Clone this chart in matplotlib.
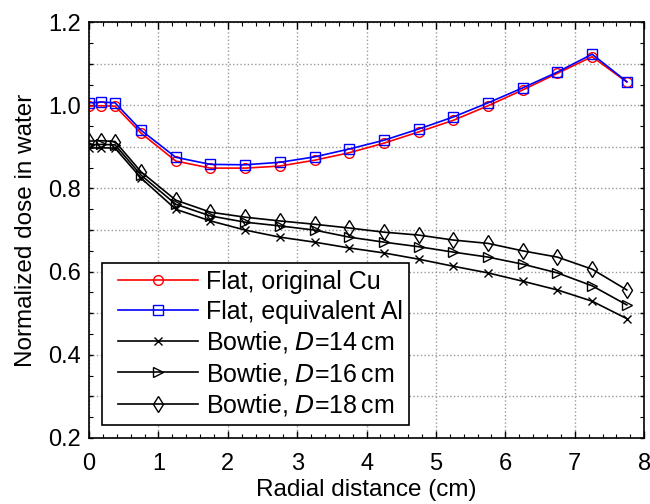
import matplotlib
matplotlib.use("Agg")
import matplotlib.pyplot as plt
import numpy as np
from matplotlib.ticker import MultipleLocator
from matplotlib.lines import Line2D
from matplotlib.legend_handler import HandlerLine2D

plt.rcParams['font.family'] = ['Liberation Sans', 'DejaVu Sans']

# radial positions (cm)
x = [0, 0.175, 0.375, 0.75, 1.25, 1.75, 2.25, 2.75, 3.25, 3.75,
     4.25, 4.75, 5.25, 5.75, 6.25, 6.75, 7.25, 7.75]

flat_cu = [0.998, 0.999, 0.998, 0.933, 0.866, 0.849, 0.849, 0.854, 0.868, 0.886,
           0.909, 0.936, 0.964, 0.999, 1.037, 1.077, 1.117, 1.056]
flat_al = [1.006, 1.008, 1.006, 0.940, 0.875, 0.858, 0.857, 0.863, 0.876, 0.895,
           0.916, 0.943, 0.972, 1.006, 1.042, 1.080, 1.123, 1.057]
bow_14 = [0.897, 0.898, 0.897, 0.825, 0.750, 0.722, 0.700, 0.683, 0.671, 0.657,
          0.645, 0.630, 0.613, 0.597, 0.577, 0.556, 0.529, 0.487]
bow_16 = [0.905, 0.906, 0.905, 0.832, 0.762, 0.734, 0.719, 0.710, 0.700, 0.683,
          0.671, 0.660, 0.647, 0.635, 0.618, 0.597, 0.566, 0.520]
bow_18 = [0.914, 0.915, 0.913, 0.840, 0.772, 0.743, 0.731, 0.722, 0.714, 0.705,
          0.695, 0.688, 0.676, 0.668, 0.650, 0.635, 0.606, 0.556]

labels = ["Flat, original Cu", "Flat, equivalent Al",
          "Bowtie, $\\it{D}$=14$\\,$cm", "Bowtie, $\\it{D}$=16$\\,$cm",
          "Bowtie, $\\it{D}$=18$\\,$cm"]

fig = plt.figure(figsize=(6.5, 5.04), dpi=100)
ax = fig.add_axes([0.137, 0.131, 0.854, 0.825])

ms = 7
ax.plot(x, flat_cu, "-o", color="red", mfc="none", ms=ms, lw=1.2, label=labels[0])
ax.plot(x, flat_al, "-s", color="blue", mfc="none", ms=ms, lw=1.2, label=labels[1])
ax.plot(x, bow_14, "-x", color="black", ms=6, lw=1.2, label=labels[2])
ax.plot(x, bow_16, "->", color="black", mfc="none", ms=ms, lw=1.2, label=labels[3])
ax.plot(x, bow_18, "-d", color="black", mfc="none", ms=ms + 1, lw=1.2, label=labels[4])

ax.set_xlim(0, 8)
ax.set_ylim(0.2, 1.2)
ax.set_xticks(np.arange(0, 9, 1))
yt = np.round(np.arange(0.2, 1.21, 0.1), 2)
ax.set_yticks(yt)
ax.set_yticklabels(["%.1f" % v if i % 2 == 0 else "" for i, v in enumerate(yt)])
ax.xaxis.set_minor_locator(MultipleLocator(0.2))
ax.yaxis.set_minor_locator(MultipleLocator(0.05))
ax.tick_params(which="both", direction="in", top=True, right=True, labelsize=17)
ax.tick_params(which="major", length=5, width=1)
ax.tick_params(which="minor", length=3, width=0.8)
ax.tick_params(axis="y", which="major", length=3, pad=6)
ax.tick_params(axis="x", which="major", pad=11)
for s in ax.spines.values():
    s.set_linewidth(1.2)

ax.grid(True, which="major", linestyle=":", color="#999999", linewidth=1)

ax.set_xlabel("Radial distance (cm)", fontsize=17.5, labelpad=3)
ax.set_ylabel("Normalized dose in water", fontsize=17.5, labelpad=8)

leg = ax.legend(loc="lower left", bbox_to_anchor=(0.023, 0.031), fontsize=18,
                handlelength=3.55, handletextpad=0.32, labelspacing=0.22,
                borderpad=0.28, fancybox=False, framealpha=1, edgecolor="black",
                borderaxespad=0, handler_map={Line2D: HandlerLine2D(xpad=0.37)})
leg.get_frame().set_linewidth(1.2)

fig.savefig("out.png", dpi=100)
